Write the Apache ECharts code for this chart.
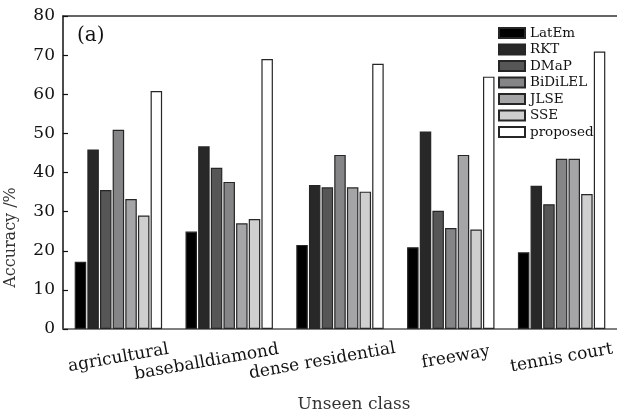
<!DOCTYPE html>
<html>
<head>
<meta charset="utf-8">
<script src="https://cdn.jsdelivr.net/npm/echarts@6/dist/echarts.min.js"></script>
<style>
  html, body { margin: 0; padding: 0; background: #fff; }
  #chart { width: 617px; height: 414px; }
</style>
</head>
<body>
<div id="chart"></div>
<script>
// Unseen classes on the x axis
const categories = ['agricultural', 'baseballdiamond', 'dense residential', 'freeway', 'tennis court'];

// Accuracy (%) per method, one value per unseen class
const latem    = [17.2, 24.9, 21.5, 20.9, 19.6];
const rkt      = [45.9, 46.7, 36.8, 50.5, 36.6];
const dmap     = [35.5, 41.2, 36.2, 30.2, 31.9];
const bidilel  = [50.9, 37.6, 44.5, 25.8, 43.5];
const jlse     = [33.2, 27.0, 36.2, 44.5, 43.5];
const sse      = [29.0, 28.1, 35.1, 25.4, 34.5];
const proposed = [60.8, 69.0, 67.8, 64.5, 70.9];

const methodNames = ['LatEm', 'RKT', 'DMaP', 'BiDiLEL', 'JLSE', 'SSE', 'proposed'];
const methodValues = [latem, rkt, dmap, bidilel, jlse, sse, proposed];
const methodColors = ['#000000', '#282828', '#565656', '#858587', '#a5a5a7', '#cfcfd0', '#ffffff'];

const yTicks = { min: 0, max: 80, interval: 10 };

const serif = '"DejaVu Serif", serif';

// per-label nudges for the slanted category labels: [top, right, bottom, left] padding
const labelPadding = [
  [0, 0, 0, 0],
  [10, 46, 0, 0],
  [12, 36, 0, 0],
  [0, 0, 0, 10],
  [0, 0, 0, 0]
];

const labelStyle = {
  fontFamily: serif,
  fontSize: 17,
  color: '#111',
  align: 'center',
  verticalAlign: 'middle'
};

const chart = echarts.init(document.getElementById('chart'), null, { renderer: 'canvas' });

const series = methodNames.map((name, i) => ({
  name: name,
  type: 'bar',
  data: methodValues[i],
  barWidth: 11.5,
  barGap: '10%',
  itemStyle: {
    color: methodColors[i],
    borderColor: '#262626',
    borderWidth: 1.2
  },
  emphasis: { disabled: true },
  animation: false
}));

chart.setOption({
  backgroundColor: '#ffffff',
  animation: false,
  grid: { left: 63, right: 0, top: 16, bottom: 85, containLabel: false, outerBoundsMode: 'none' },
  legend: {
    orient: 'vertical',
    left: 498,
    top: 26,
    padding: 0,
    itemWidth: 26,
    itemHeight: 10,
    itemGap: 2.5,
    icon: 'rect',
    data: methodNames,
    textStyle: { fontFamily: serif, fontSize: 13.5, color: '#111', lineHeight: 14 },
    selectedMode: false
  },
  xAxis: [
    {
      type: 'category',
      data: categories.map((c, i) => ({
        value: c,
        textStyle: Object.assign({}, labelStyle, { padding: labelPadding[i] })
      })),
      name: 'Unseen class',
      nameLocation: 'middle',
      nameGap: 67,
      nameTextStyle: { fontFamily: serif, fontSize: 17, color: '#333', align: 'center', verticalAlign: 'top', padding: [0, 0, 0, 28] },
      axisLine: { lineStyle: { color: '#555', width: 1.5 } },
      axisTick: { show: false },
      axisLabel: Object.assign({
        rotate: 10,
        margin: 29,
        interval: 0
      }, labelStyle),
      splitLine: { show: false }
    },
    {
      type: 'category',
      data: categories,
      position: 'top',
      axisLine: { lineStyle: { color: '#333', width: 1.5 } },
      axisTick: { show: false },
      axisLabel: { show: false },
      splitLine: { show: false }
    }
  ],
  yAxis: {
    type: 'value',
    min: yTicks.min,
    max: yTicks.max,
    interval: yTicks.interval,
    name: 'Accuracy /%',
    nameLocation: 'middle',
    nameGap: 44,
    nameTextStyle: { fontFamily: serif, fontSize: 16, color: '#333', padding: [0, 130, 0, 0] },
    axisLine: { show: true, lineStyle: { color: '#111', width: 1.5 } },
    axisTick: { show: true, inside: true, length: 5, lineStyle: { color: '#111', width: 1.2 } },
    axisLabel: { fontFamily: serif, fontSize: 17, color: '#111', margin: 8 },
    splitLine: { show: false }
  },
  graphic: [
    {
      type: 'text',
      left: 77,
      top: 26,
      style: { text: '(a)', font: '20px "DejaVu Serif", serif', fill: '#111' }
    }
  ],
  series: series
});
</script>
</body>
</html>
